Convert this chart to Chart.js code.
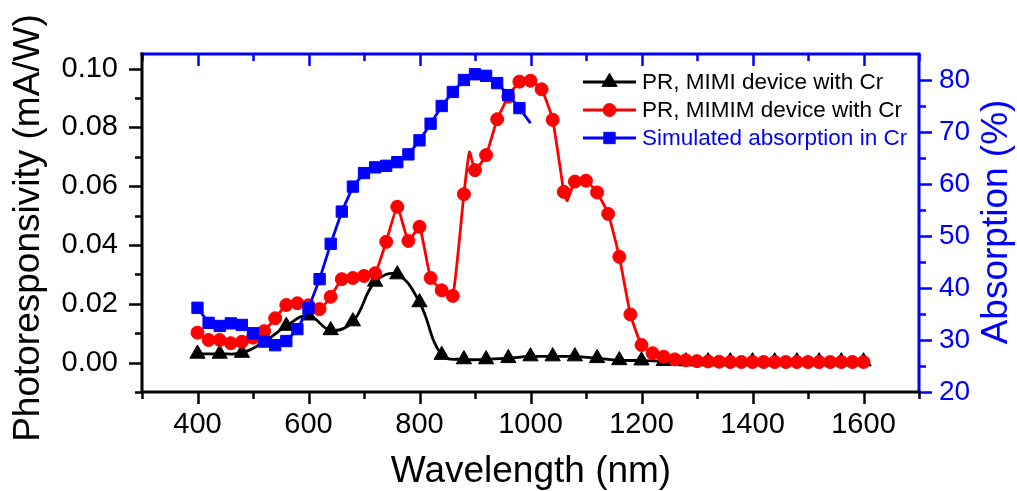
<!DOCTYPE html>
<html>
<head>
<meta charset="utf-8">
<script src="https://cdn.jsdelivr.net/npm/chart.js@4.4.1/dist/chart.umd.min.js"></script>
<style>
  html, body { margin: 0; padding: 0; background: #fff; }
  #wrap { width: 1017px; height: 491px; }
</style>
</head>
<body>
<div id="wrap"><canvas id="chart" width="1017" height="491"></canvas></div>
<script>
const wavelengthTicks = [400, 600, 800, 1000, 1200, 1400, 1600];
const prTicks = [0, 0.02, 0.04, 0.06, 0.08, 0.10];
const absTicks = [20, 30, 40, 50, 60, 70, 80];

// PR, MIMI device with Cr (mA/W)
const mimiWavelength = [400, 440, 480, 520, 560, 600, 640, 680, 720, 760, 800,
  840, 880, 920, 960, 1000, 1040, 1080, 1120, 1160, 1200,
  1240, 1280, 1320, 1360, 1400, 1440, 1480, 1520, 1560, 1600];
const mimiPR = [0.0030, 0.0030, 0.0033, 0.0070, 0.0125, 0.0160, 0.0110, 0.0140, 0.0275, 0.0300, 0.0205,
  0.0026, 0.0011, 0.0011, 0.0015, 0.0021, 0.0021, 0.0021, 0.0015, 0.0008, 0.0007,
  0.0005, 0.0004, 0.0004, 0.0004, 0.0004, 0.0004, 0.0004, 0.0004, 0.0004, 0.0004];

// PR, MIMIM device with Cr (mA/W); 890 and 1066 are line-only points
const mimimWavelength = [400, 420, 440, 460, 480, 500, 520, 540, 560, 580, 600, 620, 640, 660, 680, 700,
  720, 740, 760, 780, 800, 820, 840, 860, 880, 890, 900, 920, 940, 960, 980, 1000, 1020, 1040, 1060, 1066,
  1080, 1100, 1120, 1140, 1160, 1180, 1200, 1220, 1240, 1260, 1280, 1300, 1320, 1340, 1360, 1380,
  1400, 1420, 1440, 1460, 1480, 1500, 1520, 1540, 1560, 1580, 1600];
const mimimPR = [0.0102, 0.0077, 0.0077, 0.0066, 0.0071, 0.0085, 0.0107, 0.0151, 0.0196, 0.0202, 0.0195, 0.0182, 0.0224, 0.0284, 0.0288, 0.0295,
  0.0304, 0.0411, 0.0530, 0.0414, 0.0462, 0.0288, 0.0246, 0.0227, 0.0573, 0.0717, 0.0655, 0.0706, 0.0828, 0.0905, 0.0956, 0.0959, 0.0930, 0.0826, 0.0581, 0.0551,
  0.0616, 0.0619, 0.0579, 0.0506, 0.0360, 0.0164, 0.0060, 0.0032, 0.0020, 0.0011, 0.0008, 0.0005, 0.0004, 0.0003, 0.0002, 0.0002,
  0.0002, 0.0002, 0.0002, 0.0002, 0.0002, 0.0002, 0.0002, 0.0002, 0.0002, 0.0002, 0.0002];

// Simulated absorption in Cr (%)
const absWavelength = [400, 420, 440, 460, 480, 500, 520, 540, 560, 580, 600, 620, 640, 660, 680, 700,
  720, 740, 760, 780, 800, 820, 840, 860, 880, 900, 920, 940, 960, 980, 1000];
const absPct = [36.2, 33.3, 32.7, 33.2, 32.9, 31.3, 29.7, 29.0, 29.8, 32.1, 36.1, 41.7, 48.5, 54.7, 59.5, 62.1,
  63.2, 63.5, 64.2, 65.7, 68.4, 71.6, 75.0, 77.7, 80.0, 81.1, 80.8, 79.4, 77.1, 74.6, 71.7];

const FONT = "'Liberation Sans', Arial, sans-serif";
const BLUE = '#0000ff';
const RED = '#ff0000';

function pairs(xs, ys) {
  return xs.map((x, i) => ({ x, y: ys[i] }));
}

function fixTicks(values) {
  return scale => { scale.ticks = values.map(value => ({ value })); };
}

const framePlugin = {
  id: 'frame',
  afterDatasetsDraw(chart) {
    const { ctx, chartArea: a, scales: { x, y, y1 } } = chart;
    ctx.save();
    ctx.lineCap = 'butt';
    ctx.lineWidth = 2.5;
    // x ticks, bottom (outward, black) and top (inward, blue)
    for (let v = 300; v <= 1700; v += 100) {
      const px = Math.round(x.getPixelForValue(v)) + 0.5;
      const len = wavelengthTicks.includes(v) ? 12 : 7;
      ctx.strokeStyle = '#000';
      ctx.beginPath(); ctx.moveTo(px, a.bottom); ctx.lineTo(px, a.bottom + len); ctx.stroke();
      ctx.strokeStyle = BLUE;
      ctx.beginPath(); ctx.moveTo(px, a.top); ctx.lineTo(px, a.top + len); ctx.stroke();
    }
    // left ticks
    ctx.strokeStyle = '#000';
    for (let i = -1; i <= 10; i++) {
      const py = Math.round(y.getPixelForValue(i / 100)) + 0.5;
      const len = i % 2 === 0 ? 13 : 7;
      ctx.beginPath(); ctx.moveTo(a.left - len, py); ctx.lineTo(a.left, py); ctx.stroke();
    }
    // right ticks
    ctx.strokeStyle = BLUE;
    for (let v = 20; v <= 80; v += 5) {
      const py = Math.round(y1.getPixelForValue(v)) + 0.5;
      const len = v % 10 === 0 ? 13 : 7;
      ctx.beginPath(); ctx.moveTo(a.right, py); ctx.lineTo(a.right + len, py); ctx.stroke();
    }
    // frame
    ctx.lineWidth = 3;
    ctx.lineCap = 'square';
    ctx.strokeStyle = BLUE;
    ctx.beginPath(); ctx.moveTo(a.left, a.top); ctx.lineTo(a.right, a.top); ctx.lineTo(a.right, a.bottom); ctx.stroke();
    ctx.strokeStyle = '#000';
    ctx.beginPath(); ctx.moveTo(a.left, a.top); ctx.lineTo(a.left, a.bottom); ctx.lineTo(a.right, a.bottom); ctx.stroke();
    ctx.restore();
  }
};

const legendPlugin = {
  id: 'originLegend',
  afterDraw(chart) {
    const { ctx } = chart;
    const rows = [82, 110, 138];
    ctx.save();
    chart.data.datasets.forEach((ds, i) => {
      const yy = rows[i];
      ctx.strokeStyle = ds.borderColor;
      ctx.fillStyle = ds.backgroundColor;
      ctx.lineWidth = 2.8;
      ctx.beginPath(); ctx.moveTo(583, yy); ctx.lineTo(636, yy); ctx.stroke();
      ctx.lineWidth = 1;
      Chart.helpers.drawPoint(ctx, { pointStyle: ds.pointStyle, radius: ds.legendRadius, rotation: 0, borderWidth: 1 }, 609.5, yy);
      ctx.fillStyle = ds.textColor;
      ctx.font = '22.5px ' + FONT;
      ctx.textAlign = 'left';
      ctx.textBaseline = 'middle';
      ctx.fillText(ds.label, 642, yy + 1);
    });
    ctx.restore();
  }
};

const titlePlugin = {
  id: 'axisTitles',
  afterDraw(chart) {
    const { ctx } = chart;
    ctx.save();
    ctx.font = '37px ' + FONT;
    ctx.textAlign = 'center';
    ctx.textBaseline = 'alphabetic';
    ctx.fillStyle = '#000';
    ctx.fillText('Wavelength (nm)', 531, 482);

    ctx.save();
    ctx.translate(38.5, 228);
    ctx.rotate(-Math.PI / 2);
    ctx.fillText('Photoresponsivity (mA/W)', 0, 0);
    ctx.restore();

    ctx.save();
    ctx.fillStyle = BLUE;
    ctx.translate(1007, 222);
    ctx.rotate(-Math.PI / 2);
    ctx.fillText('Absorption (%)', 0, 0);
    ctx.restore();
    ctx.restore();
  }
};

new Chart(document.getElementById('chart'), {
  type: 'line',
  data: {
    datasets: [
      {
        label: 'PR, MIMI device with Cr',
        data: pairs(mimiWavelength, mimiPR),
        yAxisID: 'y',
        borderColor: '#000',
        backgroundColor: '#000',
        textColor: '#000',
        borderWidth: 2.8,
        tension: 0.4,
        pointStyle: 'triangle',
        pointRadius: 8.8,
        legendRadius: 8.8,
        pointBorderWidth: 1,
        order: 2
      },
      {
        label: 'PR, MIMIM device with Cr',
        data: pairs(mimimWavelength, mimimPR),
        yAxisID: 'y',
        borderColor: RED,
        backgroundColor: RED,
        textColor: '#000',
        borderWidth: 2.8,
        tension: 0.15,
        pointStyle: 'circle',
        pointRadius: c => (mimimWavelength[c.dataIndex] % 20 === 0 ? 6.5 : 0),
        legendRadius: 6.5,
        pointBorderWidth: 1,
        order: 1
      },
      {
        label: 'Simulated absorption in Cr',
        data: pairs(absWavelength, absPct),
        yAxisID: 'y1',
        borderColor: BLUE,
        backgroundColor: BLUE,
        textColor: BLUE,
        borderWidth: 2.8,
        tension: 0,
        pointStyle: 'rect',
        pointRadius: c => (c.dataIndex < absWavelength.length - 1 ? 8 : 0),
        legendRadius: 8,
        pointBorderWidth: 1,
        order: 0
      }
    ]
  },
  options: {
    responsive: false,
    animation: false,
    devicePixelRatio: 1,
    layout: { padding: { top: 54, left: 0, right: 0, bottom: 0 } },
    plugins: { legend: { display: false }, tooltip: { enabled: false } },
    scales: {
      x: {
        type: 'linear',
        position: 'bottom',
        min: 300,
        max: 1700,
        afterBuildTicks: fixTicks(wavelengthTicks),
        afterFit: s => { s.height = 99; },
        grid: { display: false, drawTicks: false },
        border: { display: false },
        ticks: { color: '#000', font: { family: FONT, size: 29 }, padding: 16, maxRotation: 0, autoSkip: false, callback: v => String(v) }
      },
      y: {
        type: 'linear',
        position: 'left',
        min: -0.01,
        max: 0.105,
        afterBuildTicks: fixTicks(prTicks),
        afterFit: s => { s.width = 142; },
        grid: { display: false, drawTicks: false },
        border: { display: false },
        ticks: { color: '#000', font: { family: FONT, size: 29 }, padding: 24, callback: v => Number(v).toFixed(2) }
      },
      y1: {
        type: 'linear',
        position: 'right',
        min: 20,
        max: 85,
        afterBuildTicks: fixTicks(absTicks),
        afterFit: s => { s.width = 98; },
        grid: { display: false, drawTicks: false },
        border: { display: false },
        ticks: { color: BLUE, font: { family: FONT, size: 28 }, padding: 20, callback: v => String(v) }
      }
    }
  },
  plugins: [framePlugin, legendPlugin, titlePlugin]
});
</script>
</body>
</html>
